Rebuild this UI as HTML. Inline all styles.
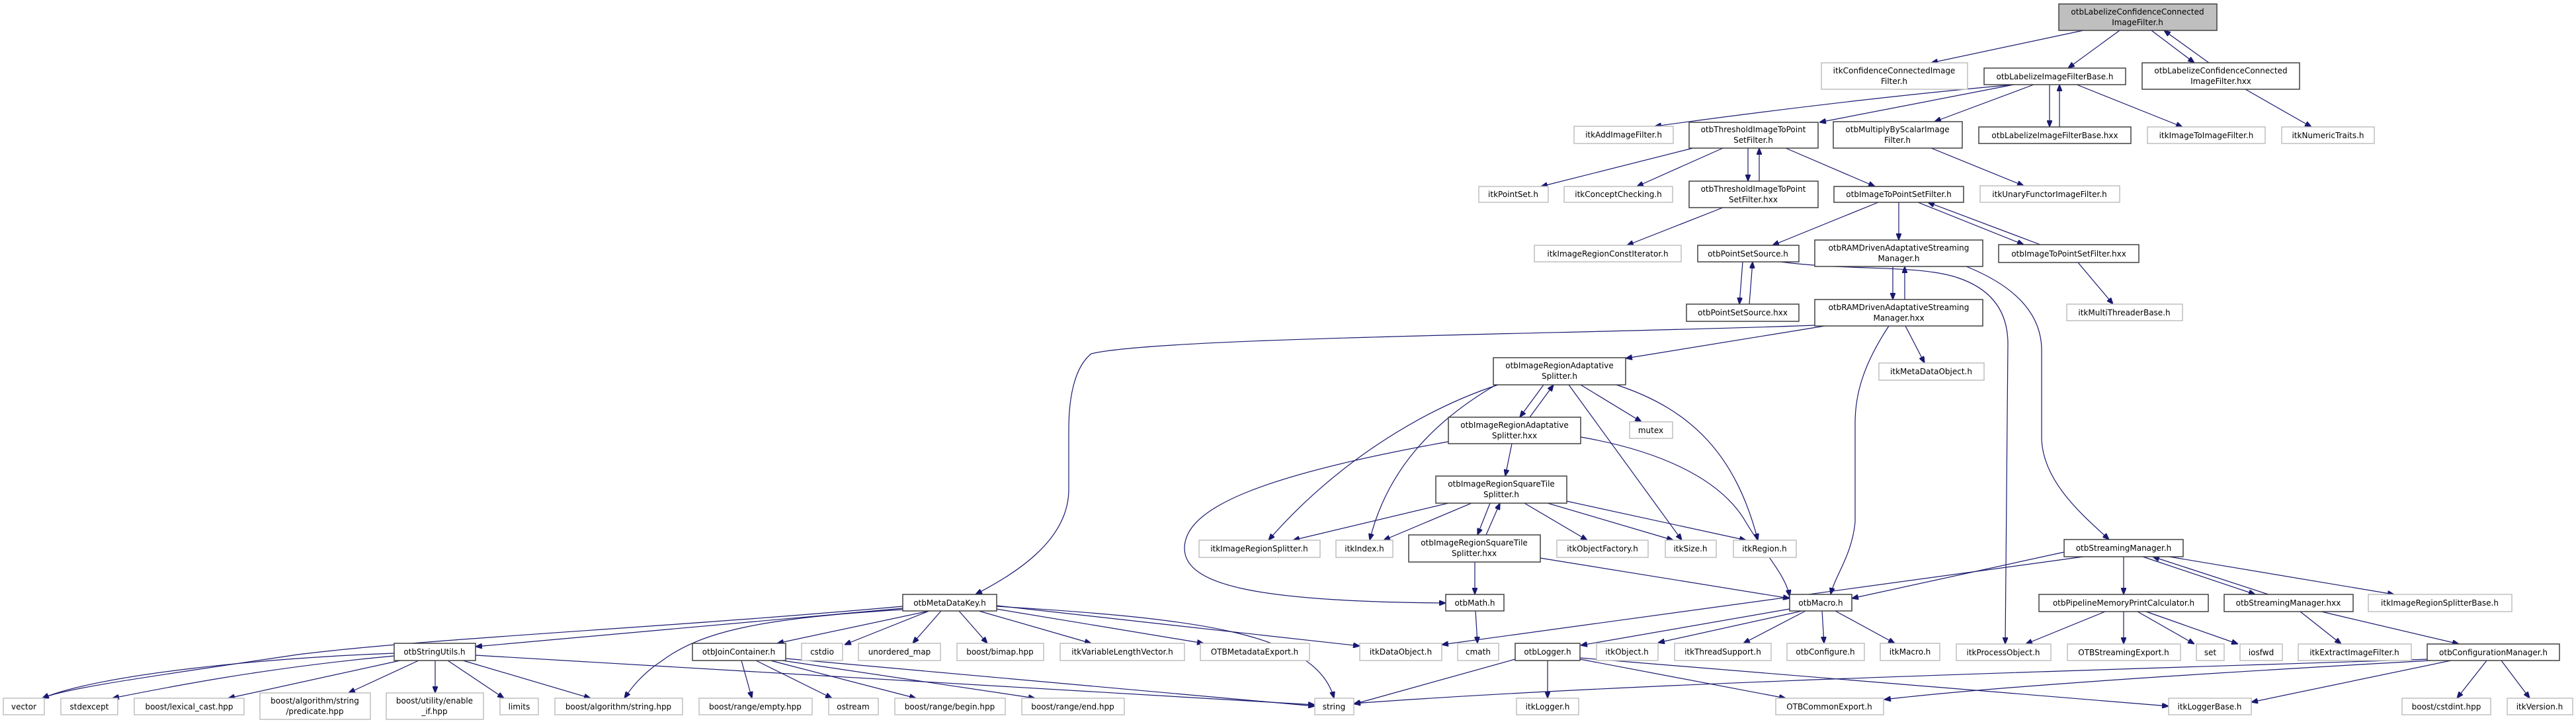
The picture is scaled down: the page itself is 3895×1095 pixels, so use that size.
<!DOCTYPE html>
<html><head><meta charset="utf-8"><style>
html,body{margin:0;padding:0;background:#fff;width:3895px;height:1095px;overflow:hidden}
svg text{font-family:"DejaVu Sans","Liberation Sans",sans-serif;font-size:12px;fill:#000;text-anchor:middle}
.d{fill:#fff;stroke:#404040;stroke-width:1.5}
.e{fill:#fff;stroke:#bfbfbf;stroke-width:1.5}
.g{fill:#bfbfbf;stroke:#404040;stroke-width:1.5}
path,line{stroke:#191970;stroke-width:1.2;fill:none}
</style></head><body>
<svg width="3895" height="1095" viewBox="0 0 3895 1095" xmlns="http://www.w3.org/2000/svg">
<defs><marker id="a" markerWidth="10" markerHeight="8" refX="10" refY="4" orient="auto" markerUnits="userSpaceOnUse"><path d="M0,0 L10,4 L0,8 z" style="fill:#191970;stroke:#191970"/></marker></defs>
<g marker-end="url(#a)">
<line x1="3150" y1="46" x2="2920" y2="95"/>
<line x1="3205" y1="46" x2="3127" y2="103"/>
<line x1="3253" y1="46" x2="3318" y2="95"/>
<line x1="3340" y1="95" x2="3272" y2="46"/>
<line x1="3395" y1="135" x2="3495" y2="192"/>
<path d="M3045,128 Q2800,150 2502,191"/>
<line x1="3045" y1="128" x2="2751" y2="185"/>
<line x1="3075" y1="128" x2="2925" y2="184"/>
<line x1="3099" y1="128" x2="3099" y2="192"/>
<line x1="3114" y1="192" x2="3114" y2="128"/>
<line x1="3140" y1="128" x2="3300" y2="192"/>
<line x1="2920" y1="224" x2="3060" y2="281"/>
<line x1="2560" y1="224" x2="2330" y2="282"/>
<line x1="2605" y1="224" x2="2475" y2="282"/>
<line x1="2643" y1="224" x2="2643" y2="274"/>
<line x1="2660" y1="274" x2="2660" y2="224"/>
<line x1="2700" y1="224" x2="2835" y2="282"/>
<line x1="2605" y1="314" x2="2460" y2="371"/>
<line x1="2840" y1="306" x2="2680" y2="371"/>
<line x1="2871" y1="306" x2="2871" y2="363"/>
<line x1="2900" y1="306" x2="3060" y2="370"/>
<line x1="3085" y1="370" x2="2915" y2="306"/>
<line x1="3142" y1="397" x2="3195" y2="460"/>
<line x1="2635" y1="396" x2="2630" y2="460"/>
<line x1="2645" y1="460" x2="2650" y2="396"/>
<path d="M2692,396 C2800,410 2900,400 2960,420 C3020,440 3036,480 3036,520 L3032,974"/>
<path d="M2973,403 C3040,430 3087,470 3087,530 L3087,665 C3090,730 3150,780 3189,816"/>
<line x1="2862" y1="403" x2="2862" y2="453"/>
<line x1="2880" y1="453" x2="2880" y2="403"/>
<line x1="2881" y1="493" x2="2910" y2="549"/>
<path d="M2856,493 C2815,555 2805,600 2805,640 L2805,790 C2800,840 2775,870 2768,899"/>
<line x1="2759" y1="493" x2="2458" y2="542"/>
<path d="M2744,492 C2400,505 1750,510 1650,535 C1625,555 1616,600 1616,650 L1616,740 C1616,820 1530,870 1475,899"/>
<line x1="2334" y1="582" x2="2298" y2="631"/>
<line x1="2313" y1="631" x2="2349" y2="582"/>
<line x1="2390" y1="582" x2="2482" y2="638"/>
<path d="M2265,582 C2150,620 2020,700 1918,817"/>
<path d="M2262,582 C2180,630 2100,700 2071,817"/>
<line x1="2372" y1="582" x2="2543" y2="817"/>
<path d="M2444,582 C2560,620 2625,690 2658,817"/>
<line x1="2286" y1="671" x2="2276" y2="720"/>
<path d="M2390,661 C2500,680 2600,720 2640,790 C2670,840 2700,870 2706,902"/>
<path d="M2190,668 C1900,720 1790,770 1791,830 C1792,885 1900,910 2186,912"/>
<line x1="2253" y1="761" x2="2234" y2="809"/>
<line x1="2247" y1="809" x2="2268" y2="761"/>
<line x1="2190" y1="761" x2="1955" y2="817"/>
<line x1="2225" y1="761" x2="2092" y2="817"/>
<line x1="2305" y1="761" x2="2400" y2="817"/>
<line x1="2340" y1="761" x2="2530" y2="817"/>
<line x1="2369" y1="758" x2="2640" y2="817"/>
<line x1="2230" y1="850" x2="2230" y2="899"/>
<line x1="2329" y1="844" x2="2706" y2="905"/>
<line x1="2231" y1="924" x2="2234" y2="973"/>
<line x1="2706" y1="921" x2="2390" y2="976"/>
<line x1="2725" y1="924" x2="2507" y2="972"/>
<line x1="2730" y1="924" x2="2636" y2="973"/>
<line x1="2755" y1="924" x2="2758" y2="973"/>
<line x1="2775" y1="924" x2="2865" y2="973"/>
<line x1="3121" y1="835" x2="2800" y2="905"/>
<line x1="3150" y1="842" x2="2180" y2="975"/>
<line x1="3211" y1="842" x2="3211" y2="899"/>
<line x1="3240" y1="842" x2="3410" y2="899"/>
<line x1="3430" y1="899" x2="3255" y2="842"/>
<line x1="3280" y1="842" x2="3620" y2="899"/>
<line x1="3183" y1="925" x2="3063" y2="974"/>
<line x1="3211" y1="925" x2="3211" y2="974"/>
<line x1="3232" y1="925" x2="3318" y2="974"/>
<line x1="3245" y1="925" x2="3384" y2="974"/>
<line x1="3478" y1="925" x2="3540" y2="974"/>
<line x1="3510" y1="925" x2="3718" y2="974"/>
<path d="M3672,997 C3300,1010 2500,1030 2047,1064"/>
<path d="M3675,999 C3300,1020 3000,1040 2849,1058"/>
<line x1="3706" y1="999" x2="3404" y2="1062"/>
<line x1="3760" y1="999" x2="3715" y2="1056"/>
<line x1="3782" y1="999" x2="3825" y2="1056"/>
<line x1="2291" y1="997" x2="2047" y2="1065"/>
<line x1="2340" y1="999" x2="2340" y2="1056"/>
<line x1="2389" y1="997" x2="2700" y2="1056"/>
<line x1="2389" y1="995" x2="3279" y2="1068"/>
<line x1="1365" y1="920" x2="719" y2="978"/>
<path d="M1365,917 C1000,950 650,965 450,990 C250,1020 100,1040 64,1056"/>
<path d="M596,988 C400,995 150,1020 64,1056"/>
<path d="M596,992 C400,1010 250,1040 170,1056"/>
<line x1="605" y1="999" x2="345" y2="1056"/>
<line x1="633" y1="999" x2="527" y2="1048"/>
<line x1="658" y1="999" x2="658" y2="1048"/>
<line x1="677" y1="999" x2="762" y2="1056"/>
<line x1="700" y1="999" x2="893" y2="1056"/>
<line x1="719" y1="991" x2="1988" y2="1066"/>
<path d="M1365,922 C1150,935 1060,955 1000,1000 C970,1020 955,1040 944,1056"/>
<line x1="1405" y1="924" x2="1175" y2="973"/>
<line x1="1405" y1="924" x2="1277" y2="975"/>
<line x1="1423" y1="924" x2="1380" y2="973"/>
<line x1="1450" y1="924" x2="1493" y2="973"/>
<line x1="1480" y1="924" x2="1650" y2="973"/>
<line x1="1500" y1="920" x2="1820" y2="973"/>
<line x1="1507" y1="916" x2="2056" y2="977"/>
<path d="M1507,917 C1800,935 1990,955 2017,1056"/>
<line x1="1121" y1="999" x2="1137" y2="1056"/>
<line x1="1143" y1="999" x2="1258" y2="1056"/>
<line x1="1165" y1="999" x2="1385" y2="1056"/>
<line x1="1183" y1="999" x2="1565" y2="1056"/>
<line x1="1188" y1="996" x2="1988" y2="1068"/>
</g>
<rect class="g" x="3113" y="6" width="239" height="40"/><text x="3232" y="22">otbLabelizeConfidenceConnected</text><text x="3232" y="38">ImageFilter.h</text>
<rect class="e" x="2754" y="95" width="221" height="40"/><text x="2864" y="111">itkConfidenceConnectedImage</text><text x="2864" y="127">Filter.h</text>
<rect class="d" x="3000" y="103" width="214" height="25"/><text x="3107" y="120">otbLabelizeImageFilterBase.h</text>
<rect class="d" x="3239" y="95" width="238" height="40"/><text x="3358" y="111">otbLabelizeConfidenceConnected</text><text x="3358" y="127">ImageFilter.hxx</text>
<rect class="e" x="2380" y="191" width="150" height="26"/><text x="2455" y="208">itkAddImageFilter.h</text>
<rect class="d" x="2554" y="185" width="195" height="39"/><text x="2651" y="200">otbThresholdImageToPoint</text><text x="2651" y="216">SetFilter.h</text>
<rect class="d" x="2772" y="184" width="195" height="40"/><text x="2869" y="200">otbMultiplyByScalarImage</text><text x="2869" y="216">Filter.h</text>
<rect class="d" x="2992" y="192" width="230" height="25"/><text x="3107" y="209">otbLabelizeImageFilterBase.hxx</text>
<rect class="e" x="3247" y="192" width="178" height="25"/><text x="3336" y="209">itkImageToImageFilter.h</text>
<rect class="e" x="3450" y="192" width="140" height="25"/><text x="3520" y="209">itkNumericTraits.h</text>
<rect class="e" x="2236" y="282" width="105" height="24"/><text x="2288" y="298">itkPointSet.h</text>
<rect class="e" x="2365" y="282" width="164" height="24"/><text x="2447" y="298">itkConceptChecking.h</text>
<rect class="d" x="2554" y="274" width="195" height="40"/><text x="2651" y="290">otbThresholdImageToPoint</text><text x="2651" y="306">SetFilter.hxx</text>
<rect class="d" x="2773" y="282" width="196" height="24"/><text x="2871" y="298">otbImageToPointSetFilter.h</text>
<rect class="e" x="2994" y="281" width="211" height="25"/><text x="3099" y="298">itkUnaryFunctorImageFilter.h</text>
<rect class="e" x="2320" y="371" width="222" height="25"/><text x="2431" y="388">itkImageRegionConstIterator.h</text>
<rect class="d" x="2567" y="371" width="153" height="25"/><text x="2643" y="388">otbPointSetSource.h</text>
<rect class="d" x="2744" y="363" width="254" height="40"/><text x="2871" y="379">otbRAMDrivenAdaptativeStreaming</text><text x="2871" y="395">Manager.h</text>
<rect class="d" x="3022" y="370" width="212" height="27"/><text x="3128" y="388">otbImageToPointSetFilter.hxx</text>
<rect class="d" x="2550" y="460" width="170" height="26"/><text x="2635" y="477">otbPointSetSource.hxx</text>
<rect class="d" x="2744" y="453" width="254" height="40"/><text x="2871" y="469">otbRAMDrivenAdaptativeStreaming</text><text x="2871" y="485">Manager.hxx</text>
<rect class="e" x="3125" y="460" width="175" height="25"/><text x="3212" y="477">itkMultiThreaderBase.h</text>
<rect class="d" x="2258" y="541" width="200" height="41"/><text x="2358" y="557">otbImageRegionAdaptative</text><text x="2358" y="573">Splitter.h</text>
<rect class="e" x="2841" y="549" width="159" height="26"/><text x="2920" y="566">itkMetaDataObject.h</text>
<rect class="d" x="2190" y="631" width="200" height="40"/><text x="2290" y="647">otbImageRegionAdaptative</text><text x="2290" y="663">Splitter.hxx</text>
<rect class="e" x="2464" y="638" width="65" height="25"/><text x="2496" y="655">mutex</text>
<rect class="d" x="2171" y="720" width="198" height="41"/><text x="2270" y="736">otbImageRegionSquareTile</text><text x="2270" y="752">Splitter.h</text>
<rect class="e" x="1813" y="817" width="183" height="26"/><text x="1904" y="834">itkImageRegionSplitter.h</text>
<rect class="e" x="2020" y="817" width="86" height="26"/><text x="2063" y="834">itkIndex.h</text>
<rect class="d" x="2130" y="809" width="199" height="41"/><text x="2229" y="825">otbImageRegionSquareTile</text><text x="2229" y="841">Splitter.hxx</text>
<rect class="e" x="2354" y="817" width="138" height="26"/><text x="2423" y="834">itkObjectFactory.h</text>
<rect class="e" x="2518" y="817" width="77" height="26"/><text x="2556" y="834">itkSize.h</text>
<rect class="e" x="2621" y="817" width="95" height="26"/><text x="2668" y="834">itkRegion.h</text>
<rect class="d" x="3121" y="816" width="180" height="26"/><text x="3211" y="833">otbStreamingManager.h</text>
<rect class="d" x="1365" y="899" width="142" height="25"/><text x="1436" y="916">otbMetaDataKey.h</text>
<rect class="d" x="2186" y="899" width="88" height="25"/><text x="2230" y="916">otbMath.h</text>
<rect class="d" x="2706" y="899" width="94" height="25"/><text x="2753" y="916">otbMacro.h</text>
<rect class="d" x="3083" y="899" width="256" height="26"/><text x="3211" y="916">otbPipelineMemoryPrintCalculator.h</text>
<rect class="d" x="3363" y="899" width="195" height="26"/><text x="3460" y="916">otbStreamingManager.hxx</text>
<rect class="e" x="3581" y="899" width="217" height="26"/><text x="3689" y="916">itkImageRegionSplitterBase.h</text>
<rect class="d" x="596" y="973" width="123" height="26"/><text x="657" y="990">otbStringUtils.h</text>
<rect class="d" x="1047" y="973" width="141" height="26"/><text x="1117" y="990">otbJoinContainer.h</text>
<rect class="e" x="1212" y="973" width="62" height="26"/><text x="1243" y="990">cstdio</text>
<rect class="e" x="1298" y="973" width="124" height="26"/><text x="1360" y="990">unordered_map</text>
<rect class="e" x="1447" y="973" width="131" height="26"/><text x="1512" y="990">boost/bimap.hpp</text>
<rect class="e" x="1603" y="973" width="188" height="26"/><text x="1697" y="990">itkVariableLengthVector.h</text>
<rect class="e" x="1815" y="973" width="165" height="26"/><text x="1897" y="990">OTBMetadataExport.h</text>
<rect class="e" x="2056" y="973" width="124" height="26"/><text x="2118" y="990">itkDataObject.h</text>
<rect class="e" x="2204" y="973" width="62" height="26"/><text x="2235" y="990">cmath</text>
<rect class="d" x="2291" y="973" width="98" height="26"/><text x="2340" y="990">otbLogger.h</text>
<rect class="e" x="2414" y="973" width="93" height="26"/><text x="2460" y="990">itkObject.h</text>
<rect class="e" x="2532" y="973" width="146" height="26"/><text x="2605" y="990">itkThreadSupport.h</text>
<rect class="e" x="2702" y="973" width="117" height="26"/><text x="2760" y="990">otbConfigure.h</text>
<rect class="e" x="2843" y="973" width="90" height="26"/><text x="2888" y="990">itkMacro.h</text>
<rect class="e" x="2958" y="974" width="143" height="25"/><text x="3029" y="991">itkProcessObject.h</text>
<rect class="e" x="3126" y="974" width="171" height="25"/><text x="3211" y="991">OTBStreamingExport.h</text>
<rect class="e" x="3321" y="974" width="42" height="25"/><text x="3342" y="991">set</text>
<rect class="e" x="3387" y="974" width="64" height="25"/><text x="3419" y="991">iosfwd</text>
<rect class="e" x="3475" y="974" width="171" height="25"/><text x="3560" y="991">itkExtractImageFilter.h</text>
<rect class="d" x="3670" y="974" width="200" height="25"/><text x="3770" y="991">otbConfigurationManager.h</text>
<rect class="e" x="5" y="1056" width="62" height="25"/><text x="36" y="1073">vector</text>
<rect class="e" x="92" y="1056" width="86" height="25"/><text x="135" y="1073">stdexcept</text>
<rect class="e" x="203" y="1056" width="166" height="25"/><text x="286" y="1073">boost/lexical_cast.hpp</text>
<rect class="e" x="393" y="1048" width="167" height="40"/><text x="476" y="1064">boost/algorithm/string</text><text x="476" y="1080">/predicate.hpp</text>
<rect class="e" x="584" y="1048" width="147" height="40"/><text x="657" y="1064">boost/utility/enable</text><text x="657" y="1080">_if.hpp</text>
<rect class="e" x="756" y="1056" width="58" height="25"/><text x="785" y="1073">limits</text>
<rect class="e" x="839" y="1056" width="193" height="25"/><text x="935" y="1073">boost/algorithm/string.hpp</text>
<rect class="e" x="1057" y="1056" width="171" height="25"/><text x="1142" y="1073">boost/range/empty.hpp</text>
<rect class="e" x="1253" y="1056" width="75" height="25"/><text x="1290" y="1073">ostream</text>
<rect class="e" x="1353" y="1056" width="167" height="25"/><text x="1436" y="1073">boost/range/begin.hpp</text>
<rect class="e" x="1545" y="1056" width="155" height="25"/><text x="1622" y="1073">boost/range/end.hpp</text>
<rect class="e" x="1988" y="1056" width="59" height="25"/><text x="2017" y="1073">string</text>
<rect class="e" x="2293" y="1056" width="94" height="25"/><text x="2340" y="1073">itkLogger.h</text>
<rect class="e" x="2685" y="1056" width="163" height="25"/><text x="2766" y="1073">OTBCommonExport.h</text>
<rect class="e" x="3279" y="1056" width="125" height="25"/><text x="3341" y="1073">itkLoggerBase.h</text>
<rect class="e" x="3632" y="1056" width="134" height="25"/><text x="3699" y="1073">boost/cstdint.hpp</text>
<rect class="e" x="3791" y="1056" width="99" height="25"/><text x="3840" y="1073">itkVersion.h</text>
</svg>
</body></html>
